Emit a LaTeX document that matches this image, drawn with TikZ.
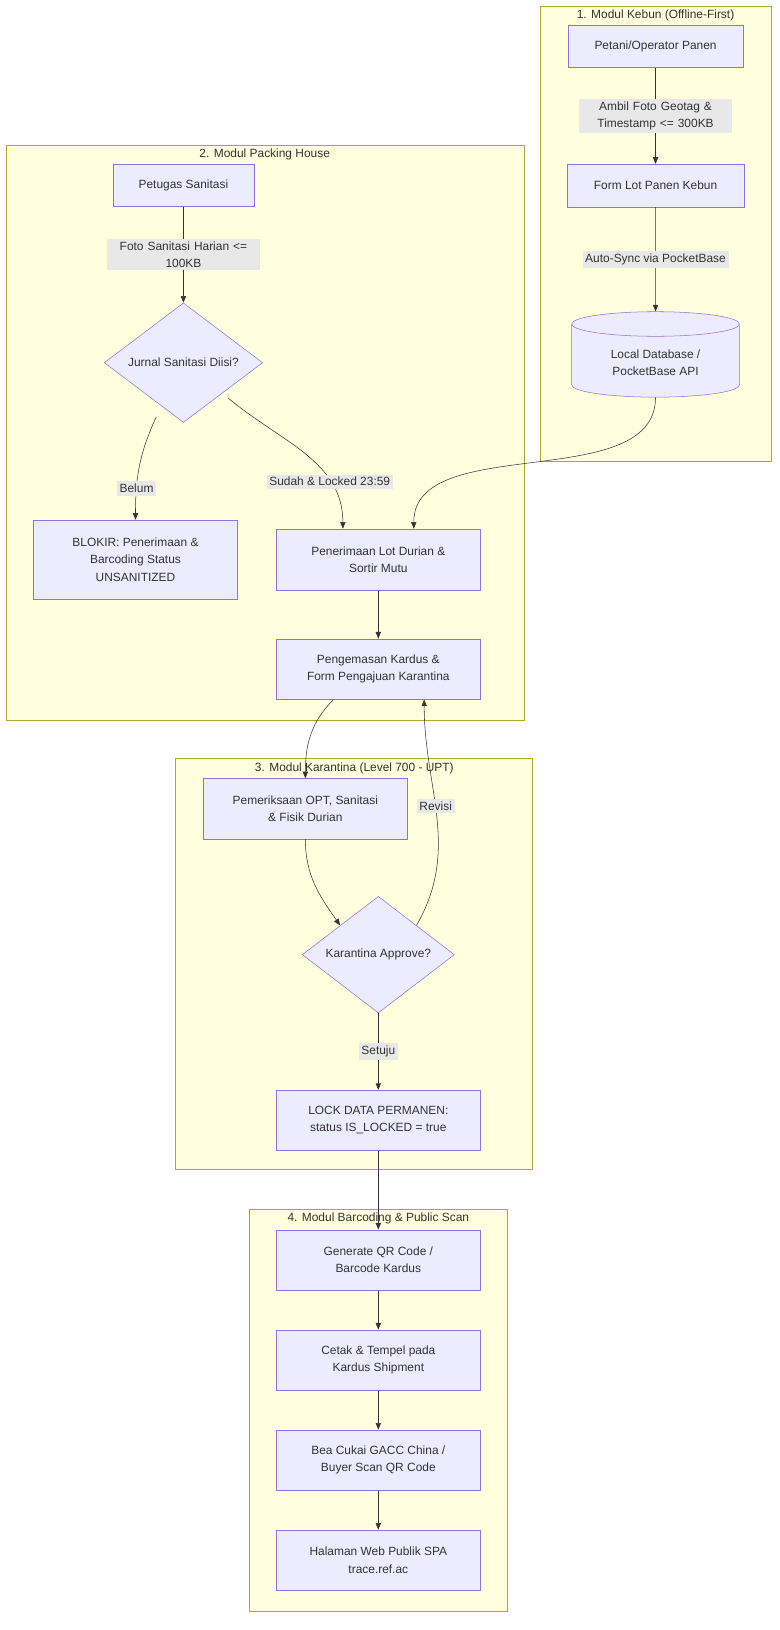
\documentclass[tikz,border=0pt]{standalone}
\usepackage{fontspec}
\setmainfont{Liberation Sans}
\usetikzlibrary{shapes.geometric,arrows.meta}
\definecolor{nodefill}{HTML}{ECECFF}
\definecolor{nodeline}{HTML}{9370DB}
\definecolor{clusterfill}{HTML}{FFFFDE}
\definecolor{clusterline}{HTML}{AAAA33}
\definecolor{labelbg}{HTML}{E8E8E8}
\definecolor{ink}{HTML}{333333}
\tikzset{
    box/.style 2 args={draw=nodeline, fill=nodefill, text=ink, align=center,
        minimum width=#1*0.786pt, minimum height=#2*0.786pt},
    cluster/.style={draw=clusterline, fill=clusterfill},
    ctitle/.style={text=ink, font=\fontsize{9}{11}\selectfont},
    decision/.style={diamond, draw=nodeline, fill=nodefill, text=ink, aspect=1, inner sep=0pt,
        minimum width=#1*0.786pt},
    elabel/.style={fill=labelbg, text=ink, align=center, inner sep=2pt},
    flow/.style={draw=ink, -{Triangle[length=5pt,width=4pt]}}
}
\begin{document}
\begin{tikzpicture}[x=0.786pt, y=-0.786pt, font=\fontsize{9}{13}\selectfont]
    \useasboundingbox (0,0) rectangle (748,1564);

    % clusters
    \draw[cluster] (518,6) rectangle (740,443);
    \node[ctitle] (t1) at (629,15) {1. Modul Kebun (Offline-First)};
    \draw[cluster] (6,139) rectangle (503,691);
    \node[ctitle] (t2) at (254,148) {2. Modul Packing House};
    \draw[cluster] (168,728) rectangle (511,1122);
    \node[ctitle] (t3) at (340,737) {3. Modul Karantina (Level 700 - UPT)};
    \draw[cluster] (239,1160) rectangle (487,1546);
    \node[ctitle] (t4) at (363,1169) {4. Modul Barcoding \& Public Scan};

    % nodes
    \node[box={168}{41}] (petani) at (629,44.5) {Petani/Operator Panen};
    \node[box={170}{41}] (formlot) at (629,178) {Form Lot Panen Kebun};
    \node[cylinder, shape border rotate=90, aspect=0.25, draw=nodeline, fill=nodefill, text=ink,
          align=center, minimum width=161*0.786pt, minimum height=82*0.786pt] (localdb) at (629,348)
          {Local Database /\\PocketBase API};

    \node[box={135}{40}] (petugas) at (176,178) {Petugas Sanitasi};
    \node[decision=152] (jurnal) at (176,348) {Jurnal Sanitasi Diisi?};
    \node[box={196}{76}] (blokir) at (130,537) {BLOKIR: Penerimaan \&\\Barcoding Status\\UNSANITIZED};
    \node[box={196}{59}] (terima) at (363,537) {Penerimaan Lot Durian \&\\Sortir Mutu};
    \node[box={196}{58}] (kemas) at (363,642) {Pengemasan Kardus \&\\Form Pengajuan Karantina};

    \node[box={196}{58}] (periksa) at (293,776) {Pemeriksaan OPT, Sanitasi\\\& Fisik Durian};
    \node[decision=146] (approve) at (363,916) {Karantina Approve?};
    \node[box={196}{58}] (lock) at (363,1075) {LOCK DATA PERMANEN:\\status IS\_LOCKED = true};

    \node[box={196}{58}] (qr) at (363,1209) {Generate QR Code /\\Barcode Kardus};
    \node[box={196}{58}] (cetak) at (363,1305) {Cetak \& Tempel pada\\Kardus Shipment};
    \node[box={196}{58}] (bea) at (363,1401) {Bea Cukai GACC China /\\Buyer Scan QR Code};
    \node[box={196}{58}] (web) at (363,1497) {Halaman Web Publik SPA\\trace.ref.ac};

    % connectors
    \draw[flow] (petani) -- node[elabel, text width=142*0.786pt] {Ambil Foto Geotag \&\\Timestamp <= 300KB} (formlot);
    \draw[flow] (formlot) -- node[elabel] {Auto-Sync via PocketBase} (localdb);
    \draw[flow] (localdb.south) to[out=-90, in=90, looseness=0.9] ([xshift=34*0.786pt]terima.north);
    \draw[flow] (petugas) -- node[elabel, text width=142*0.786pt] {Foto Sanitasi Harian <=\\100KB} (jurnal);
    \coordinate (jb) at (150,400);
    \coordinate (js) at (219,382);
    \draw[flow] (jb) to[out=-115, in=90] node[elabel, pos=0.72] {Belum} (blokir.north);
    \draw[flow] (js) to[out=-40, in=90] node[elabel, pos=0.72] {Sudah \& Locked 23:59} ([xshift=-34*0.786pt]terima.north);
    \draw[flow] (terima) -- (kemas);
    \draw[flow] ([xshift=-43*0.786pt]kemas.south) to[out=-135, in=90] (periksa.north);
    \draw[flow] (periksa.south) to[out=-90, in=125] (approve.north west);
    \draw[flow] (approve.north east) to[out=60, in=-90] node[elabel, pos=0.55] {Revisi} ([xshift=44*0.786pt]kemas.south);
    \draw[flow] (approve) -- node[elabel] {Setuju} (lock);
    \draw[flow] (lock) -- (qr);
    \draw[flow] (qr) -- (cetak);
    \draw[flow] (cetak) -- (bea);
    \draw[flow] (bea) -- (web);
\end{tikzpicture}
\end{document}
